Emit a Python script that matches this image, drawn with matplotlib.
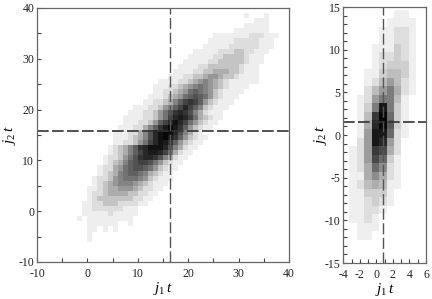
#!/usr/bin/env python3
"""Two greyscale 2D histograms of j1 t against j2 t with mean lines."""

import matplotlib

matplotlib.use("Agg")

import matplotlib.pyplot as plt
import numpy as np
from matplotlib.ticker import MultipleLocator

plt.rcParams["font.family"] = ["Liberation Serif", "DejaVu Serif"]
plt.rcParams["mathtext.fontset"] = "custom"
plt.rcParams["mathtext.it"] = "Liberation Serif:italic"
plt.rcParams["mathtext.rm"] = "Liberation Serif"
plt.rcParams["axes.unicode_minus"] = False

# darkness per bin, hex digit 0 (white) .. f (black)
# left panel: one row per y, top row first, row starts at left_starts[i]
left_y_top = 38
left_starts = [
    31, 33, 31, 29, 25, 24, 23, 21, 20, 19, 18, 17, 16, 14, 13, 13, 12, 11, 9,
    8, 7, 7, 6, 5, 5, 5, 4, 4, 3, 3, 2, 2, 1, 1, 0, 0, 0, -1, -1, -1, -2, 0, 0,
    0, 0,
]
left_levels = [
    "10001",
    "111",
    "11111",
    "1111111",
    "1111111222111",
    "1111122222111",
    "11111222222111",
    "111112223322111",
    "111112233332111",
    "1111122333332111",
    "1111223333332111",
    "11112233444332111",
    "111223345543321111",
    "11112234565432111111",
    "1112234567654321111",
    "112234578765321111",
    "111234578987532111",
    "11223468aba8532111",
    "111223568aca8632111",
    "111223579bcb9642111",
    "111122357acdca743211",
    "11122358aceca753211",
    "11122468bdfdb853211",
    "11122469cefec96421",
    "11123469cefdb853211",
    "1122357acedb853211",
    "123468bceeec964211",
    "123468acddca74211",
    "1223579bccb964211",
    "1234689aa9753211",
    "1224578998753211",
    "123467887643211",
    "1223567776532111",
    "123456665432111",
    "112344555432211",
    "12234444332211",
    "1233333332211",
    "1122333222211",
    "11222222111",
    "11111211111",
    "10111111111",
    "111111001",
    "11010100",
    "1",
    "1",
]
# how dark each digit is drawn in the left panel
left_shades = [0, 0.07, 0.14, 0.24, 0.33, 0.42, 0.5, 0.57, 0.64, 0.7, 0.76, 0.82, 0.87, 0.92, 0.96, 1]

# right panel: fixed columns, top row first
right_col_edges = [-3.27, -2.37, -1.47, -0.57, 0.33, 1.23, 2.13, 3.03, 3.93, 4.83]
right_y_top = 14.7
right_levels = [
    "000000110",
    "000001111",
    "000011221",
    "000011221",
    "000111321",
    "000122321",
    "000123331",
    "001134431",
    "001246421",
    "002468521",
    "012688410",
    "0138e8310",
    "014cf9310",
    "015dfa310",
    "016ee9210",
    "026ed6200",
    "126cb5200",
    "126b93100",
    "125972100",
    "115752100",
    "124541100",
    "113331000",
    "112321000",
    "112210000",
    "112100000",
    "011100000",
    "011000000",
]

left_mean = (16.3, 15.8)
right_mean = (0.75, 1.5)


def levels_grid_left():
    x_min, x_max = min(left_starts), 38
    grid = np.zeros((len(left_levels), x_max - x_min))
    for i, (start, row) in enumerate(zip(left_starts, left_levels)):
        for j, ch in enumerate(row):
            grid[i, start - x_min + j] = left_shades[int(ch, 16)]
    x_edges = np.arange(x_min, x_max + 1)
    y_edges = left_y_top + 1 - np.arange(len(left_levels) + 1)
    return x_edges, y_edges, grid


def levels_grid_right():
    grid = np.array([[int(ch, 16) / 15 for ch in row] for row in right_levels])
    y_edges = right_y_top - np.arange(len(right_levels) + 1)
    return np.array(right_col_edges), y_edges, grid


def style_axes(ax, xlim, ylim, x_major, x_minor, y_major, y_minor):
    ax.set_xlim(*xlim)
    ax.set_ylim(*ylim)
    ax.xaxis.set_major_locator(MultipleLocator(x_major))
    ax.xaxis.set_minor_locator(MultipleLocator(x_minor))
    ax.yaxis.set_major_locator(MultipleLocator(y_major))
    ax.yaxis.set_minor_locator(MultipleLocator(y_minor))
    ax.tick_params(which="both", direction="in", length=3, width=0.8, color="#444444",
                   labelsize=8.5, labelcolor="#222222")
    ax.tick_params(axis="x", which="both", pad=4)
    ax.tick_params(axis="y", which="both", pad=2)
    for spine in ax.spines.values():
        spine.set_color("#666666")
        spine.set_linewidth(0.9)
    ax.set_xlabel(r"$j_{1}\,t$", fontsize=11, labelpad=0)
    ax.set_ylabel(r"$j_{2}\,t$", fontsize=11, labelpad=0)


def draw_panel(ax, edges, mean):
    x_edges, y_edges, grid = edges
    ax.pcolormesh(x_edges, y_edges, np.ma.masked_equal(grid, 0), cmap="gray_r",
                  vmin=0, vmax=1.03, linewidth=0)
    ax.axvline(mean[0], color="#555555", lw=1.0, dashes=(8, 2.5))
    ax.axhline(mean[1], color="#333333", lw=1.2, dashes=(7, 2))


W, H = 432, 299
fig = plt.figure(figsize=(W / 100, H / 100), dpi=100)
ax_left = fig.add_axes([37 / W, 1 - 262 / H, 252 / W, 254 / H])
ax_right = fig.add_axes([343.3 / W, 1 - 263 / H, 82.7 / W, 256 / H])

draw_panel(ax_left, levels_grid_left(), left_mean)
style_axes(ax_left, (-10, 40), (-10, 40), 10, 5, 10, 5)

draw_panel(ax_right, levels_grid_right(), right_mean)
style_axes(ax_right, (-4, 6), (-15, 15), 2, 1, 5, 1)
ax_right.yaxis.labelpad = -3

fig.savefig("out.png", dpi=100)
